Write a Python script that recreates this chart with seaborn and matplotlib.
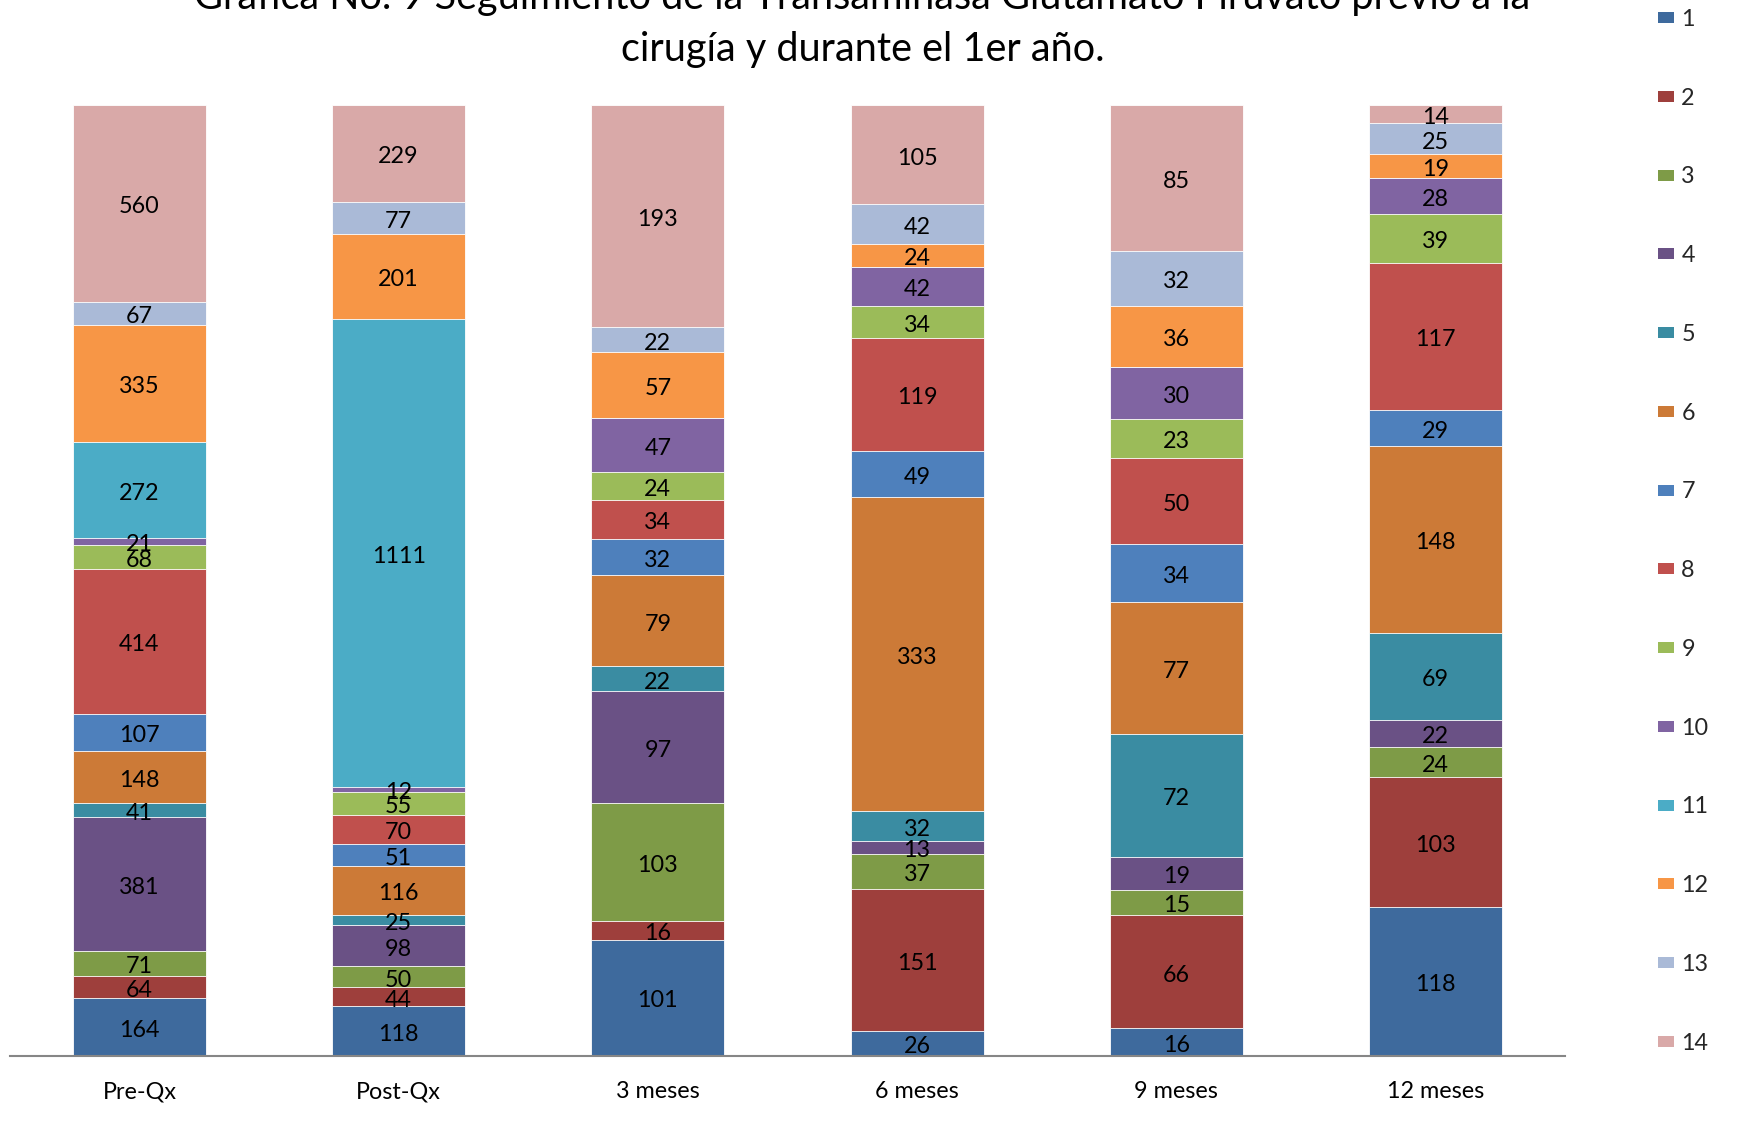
import numpy as np
import pandas as pd
import seaborn as sns
import matplotlib.pyplot as plt
from matplotlib.patches import Patch

# Periods on the x axis
periodos = ["Pre-Qx", "Post-Qx", "3 meses", "6 meses", "9 meses", "12 meses"]
series = [str(i) for i in range(1, 15)]

# Counts per series, one value per period
s1 = [164, 118, 101, 26, 16, 118]
s2 = [64, 44, 16, 151, 66, 103]
s3 = [71, 50, 103, 37, 15, 24]
s4 = [381, 98, 97, 13, 19, 22]
s5 = [41, 25, 22, 32, 72, 69]
s6 = [148, 116, 79, 333, 77, 148]
s7 = [107, 51, 32, 49, 34, 29]
s8 = [414, 70, 34, 119, 50, 117]
s9 = [68, 55, 24, 34, 23, 39]
s10 = [21, 12, 47, 42, 30, 28]
s11 = [272, 1111, 0, 0, 0, 0]
s12 = [335, 201, 57, 24, 36, 19]
s13 = [67, 77, 22, 42, 32, 25]
s14 = [560, 229, 193, 105, 85, 14]

valores = np.array([s1, s2, s3, s4, s5, s6, s7, s8, s9, s10, s11, s12, s13, s14], dtype=float)

colores = ["#3E6A9D", "#9E3F3C", "#7E9B47", "#6A5185", "#3A8CA2", "#CC7A37",
           "#4E80BC", "#C0504D", "#9BBB59", "#8064A2", "#4BACC6", "#F79646",
           "#AABAD7", "#D9A9A8"]

sns.set_theme(style="white")
plt.rcParams["font.family"] = ["Lato", "DejaVu Sans"]

FS = 16.8

fig = plt.figure(figsize=(17.37, 11.21), dpi=100)
ax = fig.add_axes([0.0057, 0.0583, 0.8953, 0.8477])

# 100% stacked: proportions of each period's total
totales = valores.sum(axis=0)
frac = valores / totales
cum = np.cumsum(frac, axis=0)

# Draw cumulative bars from the top series down so each lower series covers the rest
for k in range(len(series) - 1, -1, -1):
    df = pd.DataFrame({"periodo": periodos, "acum": cum[k]})
    sns.barplot(data=df, x="periodo", y="acum", color=colores[k], saturation=1,
                width=0.513, edgecolor="white", linewidth=0.6, ax=ax, errorbar=None)

# Value labels centred in each segment
for k in range(len(series)):
    for j in range(len(periodos)):
        v = valores[k, j]
        if v <= 0:
            continue
        y = cum[k, j] - frac[k, j] / 2
        ax.annotate(f"{int(v)}", xy=(j, y), xytext=(0, -2.4), textcoords="offset points",
                    ha="center", va="center", fontsize=FS, color="black")

ax.set_xlim(-0.5, 5.5)
ax.set_ylim(0, 1)
ax.set_yticks([])
ax.set_xlabel("")
ax.set_ylabel("")
for s in ["left", "right", "top"]:
    ax.spines[s].set_visible(False)
ax.spines["bottom"].set_color("#868686")
ax.spines["bottom"].set_linewidth(1.5)
ax.tick_params(axis="x", length=0, pad=18.5, labelsize=FS, labelcolor="black")

# Title (two lines)
fig.text(0.4965, 1.002, "Grafica No. 9 Seguimiento de la Transaminasa Glutamato Piruvato previo a la",
         ha="center", va="center", fontsize=28.5, color="black")
fig.text(0.4965, 0.9554, "cirugía y durante el 1er año.",
         ha="center", va="center", fontsize=28.5, color="black")

# Legend on the right
handles = [Patch(facecolor=c, edgecolor="none", label=s) for c, s in zip(colores, series)]
fig.legend(handles=handles, loc="upper left", bbox_to_anchor=(0.9545, 0.992),
           frameon=False, fontsize=FS, handlelength=0.7, handleheight=0.35,
           handletextpad=0.3, labelspacing=2.475, borderpad=0, borderaxespad=0)

fig.savefig("out.png", dpi=100)
